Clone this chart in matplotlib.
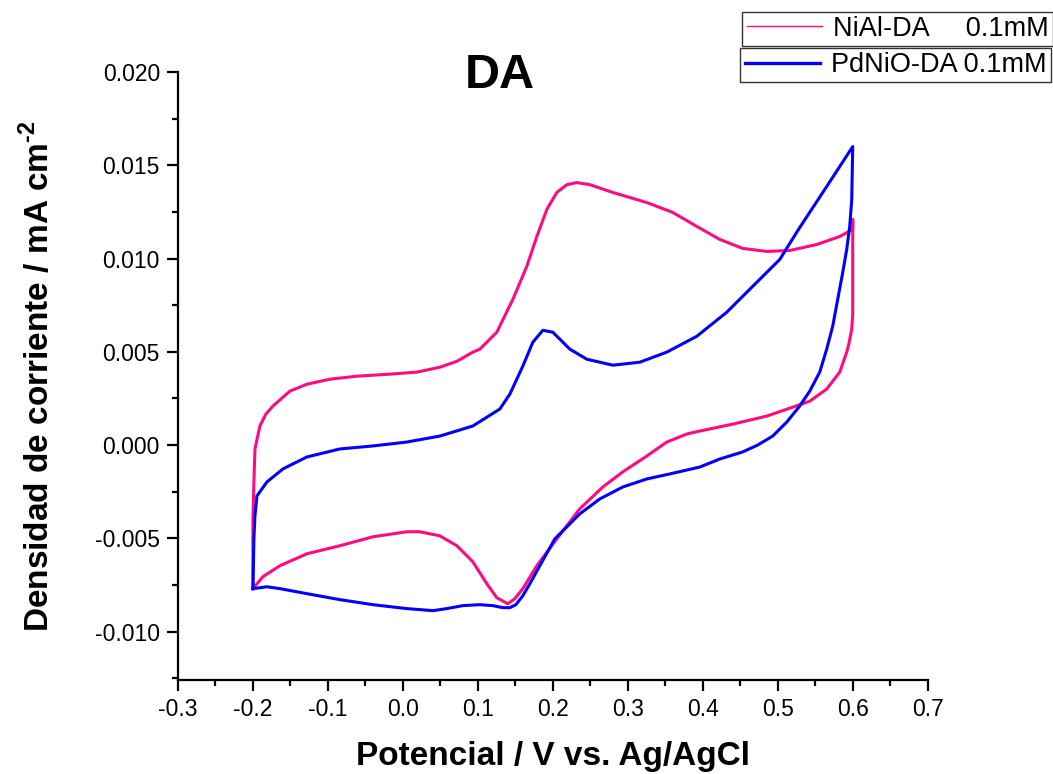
import matplotlib
matplotlib.use("Agg")
import matplotlib.pyplot as plt
from matplotlib.ticker import MultipleLocator, FormatStrFormatter
from matplotlib.lines import Line2D

plt.rcParams['font.family'] = ['Liberation Sans', 'DejaVu Sans']
plt.rcParams['axes.unicode_minus'] = False
plt.rcParams['mathtext.fontset'] = 'custom'
plt.rcParams['mathtext.rm'] = 'Liberation Sans'
plt.rcParams['mathtext.bf'] = 'Liberation Sans:bold'

# NiAl-DA 0.1mM, voltammogram (scan order)
niAl_E = [-0.2, -0.2, -0.1987, -0.1973, -0.1907, -0.1827, -0.1733, -0.1507, -0.128,
          -0.0973, -0.0613, -0.0173, 0.0187, 0.0493, 0.072, 0.0933, 0.1027, 0.1253,
          0.1467, 0.1653, 0.1787, 0.192, 0.2053, 0.2187, 0.232, 0.2493, 0.28, 0.3253,
          0.36, 0.392, 0.4227, 0.4533, 0.4853, 0.516, 0.552, 0.5827, 0.6, 0.6,
          0.6, 0.6, 0.5987, 0.5947, 0.592, 0.5827, 0.5653, 0.5427, 0.52, 0.4853,
          0.44, 0.396, 0.3787, 0.352, 0.3253, 0.2933, 0.2667, 0.236, 0.2053, 0.1787,
          0.16, 0.1493, 0.14, 0.1253, 0.112, 0.0933, 0.072, 0.0493, 0.0227, 0.0053,
          -0.04, -0.084, -0.128, -0.164, -0.1867, -0.2]
niAl_j = [-0.0077, -0.00396, -0.00198, -0.00021, 0.00102, 0.00166, 0.00209, 0.00289, 0.00326,
          0.00353, 0.00369, 0.0038, 0.00391, 0.00417, 0.00449, 0.00498, 0.00514, 0.00605,
          0.00781, 0.00958, 0.01118, 0.01263, 0.01354, 0.01396, 0.01407, 0.01396, 0.01354, 0.013,
          0.01247, 0.01172, 0.01102, 0.01054, 0.01038, 0.01043, 0.01075, 0.01118, 0.01156, 0.01209,
          0.01129, 0.00701, 0.00621, 0.0054, 0.00498, 0.00391, 0.003, 0.00235, 0.00203, 0.00155,
          0.00112, 0.00075, 0.00059, 0.00016, -0.00059, -0.00144, -0.00225, -0.00342, -0.00503, -0.00647,
          -0.0077, -0.00824, -0.00851, -0.00819, -0.00744, -0.00626, -0.0054, -0.00487, -0.00465, -0.00465,
          -0.00492, -0.0054, -0.00583, -0.00647, -0.00706, -0.0077]

# PdNiO-DA 0.1mM
pdnio_E = [-0.2, -0.1987, -0.1973, -0.1947, -0.1813, -0.16, -0.128, -0.084, -0.04, 0.0053,
           0.0493, 0.0933, 0.1293, 0.1427, 0.16, 0.1733, 0.1867, 0.2, 0.2227, 0.2453,
           0.28, 0.316, 0.352, 0.392, 0.432, 0.4667, 0.5027, 0.5293, 0.5653, 0.6,
           0.5987, 0.596, 0.592, 0.5867, 0.58, 0.5733, 0.5653, 0.556, 0.5427, 0.5293,
           0.512, 0.4933, 0.4733, 0.4533, 0.4227, 0.396, 0.356, 0.3253, 0.2933, 0.2627,
           0.236, 0.2027, 0.1827, 0.1693, 0.16, 0.1507, 0.1427, 0.1333, 0.12, 0.1027,
           0.08, 0.0587, 0.04, 0.0053, -0.04, -0.084, -0.128, -0.164, -0.1813, -0.2]
pdnio_j = [-0.0077, -0.00503, -0.0038, -0.00273, -0.00198, -0.00128, -0.00064, -0.00021, -0.00005, 0.00016,
           0.00048, 0.00102, 0.00193, 0.00273, 0.00423, 0.00551, 0.00615, 0.00605, 0.00514, 0.0046,
           0.00428, 0.00444, 0.00498, 0.00583, 0.00712, 0.00851, 0.00995, 0.01166, 0.01386, 0.016,
           0.01316, 0.01172, 0.01049, 0.00926, 0.00781, 0.00637, 0.00514, 0.00391, 0.00289, 0.00209,
           0.00123, 0.00048, 0.0, -0.00037, -0.00075, -0.00118, -0.00155, -0.00182, -0.00225, -0.00289,
           -0.00369, -0.00503, -0.00647, -0.00744, -0.00808, -0.00856, -0.00872, -0.00872, -0.00861, -0.00856,
           -0.00861, -0.00877, -0.00888, -0.00877, -0.00856, -0.00829, -0.00797, -0.0077, -0.0076, -0.0077]

pink = '#FF0A80'
blue = '#0000FF'

fig = plt.figure(figsize=(10.53, 7.74), dpi=100)
ax = fig.add_axes([0.169, 0.1214, 0.712, 0.7856])

ax.plot(niAl_E, niAl_j, color=pink, lw=2.2)
ax.plot(pdnio_E, pdnio_j, color=blue, lw=2.2)

ax.set_xlim(-0.3, 0.7)
ax.set_ylim(-0.0126, 0.020)
ax.spines['top'].set_visible(False)
ax.spines['right'].set_visible(False)
for s in ['left', 'bottom']:
    ax.spines[s].set_linewidth(1.6)

ax.xaxis.set_major_locator(MultipleLocator(0.1))
ax.xaxis.set_minor_locator(MultipleLocator(0.05))
ax.yaxis.set_major_locator(MultipleLocator(0.005))
ax.yaxis.set_minor_locator(MultipleLocator(0.0025))
ax.xaxis.set_major_formatter(FormatStrFormatter('%.1f'))
ax.yaxis.set_major_formatter(FormatStrFormatter('%.3f'))
ax.tick_params(which='major', direction='out', length=8, width=1.6, labelsize=16.5, pad=5)
ax.tick_params(which='minor', direction='out', length=4.5, width=1.6)

ax.set_xlabel('Potencial / V vs. Ag/AgCl', fontsize=24, fontweight='bold', labelpad=14)
ax.set_ylabel('Densidad de corriente / mA cm$^{\\mathbf{\u2010}\\mathbf{2}}$', fontsize=24,
              fontweight='bold', labelpad=28)
fig.text(0.475, 0.903, 'DA', fontsize=35, fontweight='bold', ha='center', va='center')

# two stacked legend boxes, top right
h1 = [Line2D([], [], color=pink, lw=1.0)]
h2 = [Line2D([], [], color=blue, lw=2.4)]
leg1 = fig.legend(h1, ['NiAl-DA     0.1mM'], loc='upper right', bbox_to_anchor=(1.0, 0.985),
                  fontsize=19.5, frameon=True, fancybox=False, borderpad=0.15, handlelength=2.8,
                  handletextpad=0.4, borderaxespad=0)
leg2 = fig.legend(h2, ['PdNiO-DA 0.1mM'], loc='upper right', bbox_to_anchor=(0.998, 0.938),
                  fontsize=19.5, frameon=True, fancybox=False, borderpad=0.15, handlelength=2.8,
                  handletextpad=0.4, borderaxespad=0)
for lg in (leg1, leg2):
    lg.get_frame().set_edgecolor('black')
    lg.get_frame().set_linewidth(1.0)

fig.savefig('out.png', dpi=100)
